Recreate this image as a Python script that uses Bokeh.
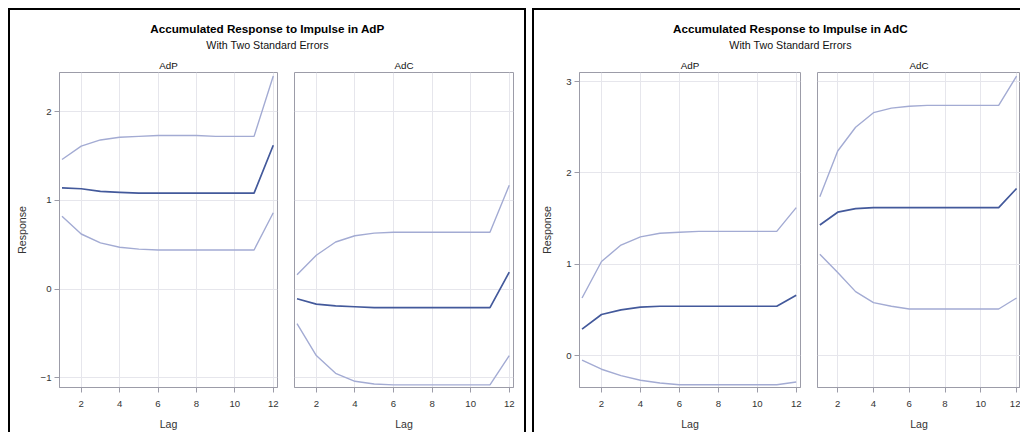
from bokeh.plotting import figure
from bokeh.layouts import row, column
from bokeh.models import Range1d, FixedTicker, Spacer, ColumnDataSource
from bokeh.core.properties import value
from bokeh.embed import file_html
from bokeh.resources import INLINE

# ---------------- data ----------------
lags = [1, 2, 3, 4, 5, 6, 7, 8, 9, 10, 11, 12]
x_ticks = [2, 4, 6, 8, 10, 12]

chart_titles = ["Accumulated Response to Impulse in AdP", "Accumulated Response to Impulse in AdC"]
chart_subtitle = "With Two Standard Errors"
panel_names = ["AdP", "AdC"]

# Impulse in AdP
adp_adp_mid = [1.14, 1.13, 1.10, 1.09, 1.08, 1.08, 1.08, 1.08, 1.08, 1.08, 1.08, 1.62]
adp_adp_up = [1.46, 1.61, 1.68, 1.71, 1.72, 1.73, 1.73, 1.73, 1.72, 1.72, 1.72, 2.40]
adp_adp_lo = [0.82, 0.62, 0.52, 0.47, 0.45, 0.44, 0.44, 0.44, 0.44, 0.44, 0.44, 0.86]

adp_adc_mid = [-0.11, -0.17, -0.19, -0.20, -0.21, -0.21, -0.21, -0.21, -0.21, -0.21, -0.21, 0.19]
adp_adc_up = [0.16, 0.38, 0.53, 0.60, 0.63, 0.64, 0.64, 0.64, 0.64, 0.64, 0.64, 1.17]
adp_adc_lo = [-0.39, -0.75, -0.95, -1.04, -1.07, -1.08, -1.08, -1.08, -1.08, -1.08, -1.08, -0.75]

# Impulse in AdC
adc_adp_mid = [0.29, 0.45, 0.50, 0.53, 0.54, 0.54, 0.54, 0.54, 0.54, 0.54, 0.54, 0.66]
adc_adp_up = [0.63, 1.03, 1.21, 1.30, 1.34, 1.35, 1.36, 1.36, 1.36, 1.36, 1.36, 1.62]
adc_adp_lo = [-0.05, -0.15, -0.22, -0.27, -0.30, -0.32, -0.32, -0.32, -0.32, -0.32, -0.32, -0.29]

adc_adc_mid = [1.43, 1.57, 1.61, 1.62, 1.62, 1.62, 1.62, 1.62, 1.62, 1.62, 1.62, 1.83]
adc_adc_up = [1.74, 2.24, 2.50, 2.66, 2.71, 2.73, 2.74, 2.74, 2.74, 2.74, 2.74, 3.06]
adc_adc_lo = [1.11, 0.91, 0.70, 0.58, 0.54, 0.51, 0.51, 0.51, 0.51, 0.51, 0.51, 0.63]

left_yticks = [-1, 0, 1, 2]
right_yticks = [0, 1, 2, 3]

# ---------------- style ----------------
FONT = "Liberation Sans"
MID_COLOR = "#43599b"
CI_COLOR = "#a3abd3"
GRID_COLOR = "#e6e6ec"
AXIS_COLOR = "#9c9ca8"
TEXT_COLOR = "#333333"
PANEL_H = 376
BAR_H = 424


def black_bar(w, h):
    return Spacer(width=w, height=h, styles={"background-color": "#000000"})


def header(w, title, subtitle, cx):
    p = figure(width=w, height=46, x_range=Range1d(0, w), y_range=Range1d(46, 0),
               output_backend="svg", toolbar_location=None,
               min_border_left=0, min_border_right=0, min_border_top=0, min_border_bottom=0)
    p.axis.visible = False
    p.grid.visible = False
    p.outline_line_color = None
    p.text(x=[cx], y=[18], text=[title], text_font=value(FONT), text_font_size="11.7px",
           text_font_style="bold", text_align="center", text_baseline="middle", text_color="#000000")
    p.text(x=[cx], y=[34.5], text=[subtitle], text_font=value(FONT), text_font_size="10.7px",
           text_align="center", text_baseline="middle", text_color="#111111")
    return p


def panel(width, mbl, mbr, yr, yticks, name, mid, up, lo, show_y):
    p = figure(width=width, height=PANEL_H, x_range=Range1d(0.87, 12.22), y_range=Range1d(*yr),
               output_backend="svg", toolbar_location=None,
               min_border_left=mbl, min_border_right=mbr, min_border_top=16, min_border_bottom=44)
    p.title.text = name
    p.title.align = "center"
    p.title.text_font = FONT
    p.title.text_font_style = "normal"
    p.title.text_font_size = "9.8px"
    p.title.text_color = "#111111"
    p.title.standoff = 3

    src = ColumnDataSource(dict(lag=lags, mid=mid, up=up, lo=lo))
    p.line("lag", "up", source=src, line_color=CI_COLOR, line_width=1.4)
    p.line("lag", "lo", source=src, line_color=CI_COLOR, line_width=1.4)
    p.line("lag", "mid", source=src, line_color=MID_COLOR, line_width=1.7)

    p.xaxis.ticker = FixedTicker(ticks=x_ticks)
    p.yaxis.ticker = FixedTicker(ticks=yticks)
    p.xgrid.ticker = FixedTicker(ticks=x_ticks)
    p.ygrid.ticker = FixedTicker(ticks=yticks)
    p.grid.grid_line_color = GRID_COLOR
    p.outline_line_color = AXIS_COLOR
    p.outline_line_width = 1

    for ax in (p.xaxis, p.yaxis):
        ax.axis_line_color = AXIS_COLOR
        ax.major_tick_line_color = AXIS_COLOR
        ax.major_tick_out = 5
        ax.major_tick_in = 0
        ax.minor_tick_line_color = None
        ax.major_label_text_font = FONT
        ax.major_label_text_font_size = "9.6px"
        ax.major_label_text_color = TEXT_COLOR
        ax.axis_label_text_font = FONT
        ax.axis_label_text_font_size = "10.6px"
        ax.axis_label_text_font_style = "normal"
        ax.axis_label_text_color = TEXT_COLOR
    p.xaxis.major_label_standoff = 8
    p.xaxis.axis_label = "Lag"
    p.xaxis.axis_label_standoff = 8
    if show_y:
        p.yaxis.major_label_standoff = 3
        p.yaxis.axis_label = "Response"
        p.yaxis.axis_label_standoff = 10
    else:
        p.yaxis.visible = False
    return p


# ---------------- left chart ----------------
l1 = panel(275, 49, 8, (-1.11, 2.44), left_yticks, panel_names[0], adp_adp_mid, adp_adp_up, adp_adp_lo, True)
l2 = panel(239, 9, 11, (-1.11, 2.44), left_yticks, panel_names[1], adp_adc_mid, adp_adc_up, adp_adc_lo, False)
left_chart = row(
    black_bar(2, BAR_H),
    column(black_bar(514, 2), header(514, chart_titles[0], chart_subtitle, 257), row(l1, l2)),
    black_bar(2, BAR_H),
)

# ---------------- right chart (cut at the window edge) ----------------
r1 = panel(272, 45, 6, (-0.35, 3.10), right_yticks, panel_names[0], adc_adp_mid, adc_adp_up, adc_adp_lo, True)
r2 = panel(214, 11, 0, (-0.35, 3.10), right_yticks, panel_names[1], adc_adc_mid, adc_adc_up, adc_adc_lo, False)
right_chart = row(
    black_bar(2, BAR_H),
    column(black_bar(486, 2), header(486, chart_titles[1], chart_subtitle, 256), row(r1, r2)),
)

layout = column(
    Spacer(width=1020, height=8),
    row(Spacer(width=8, height=BAR_H), left_chart, Spacer(width=6, height=BAR_H), right_chart),
)

open("out.html", "w").write(file_html(layout, INLINE))
